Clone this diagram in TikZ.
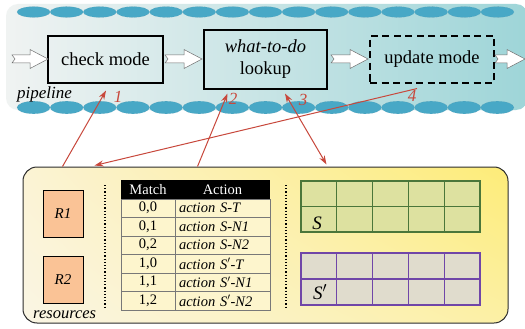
\documentclass[tikz,border=0pt]{standalone}
\usepackage{fontspec}
\setmainfont{Liberation Serif}
\usetikzlibrary{arrows.meta,calc,shadings}
\definecolor{pipeL}{RGB}{240,243,242}
\definecolor{pipeR}{RGB}{158,213,216}
\definecolor{ellC}{RGB}{72,168,198}
\definecolor{ellD}{RGB}{95,150,170}
\definecolor{redC}{RGB}{200,72,60}
\definecolor{resBox}{RGB}{250,195,150}
\definecolor{gridG}{RGB}{75,118,58}
\definecolor{gridGF}{RGB}{221,225,160}
\definecolor{gridP}{RGB}{112,70,168}
\definecolor{gridPF}{RGB}{224,220,205}
\definecolor{rowF}{RGB}{253,245,205}
\definecolor{cellD}{RGB}{120,120,120}
\definecolor{arrG}{RGB}{110,110,110}
\definecolor{resUL}{RGB}{251,243,212}
\definecolor{resUR}{RGB}{253,236,120}
\definecolor{resLL}{RGB}{250,245,228}
\definecolor{resLR}{RGB}{252,240,165}
\definecolor{resEdge}{RGB}{45,45,45}
\tikzset{
  procbox/.style={draw=black, line width=1.1pt, minimum height=47pt, inner sep=2pt,
    font=\fontsize{18.5}{22}\selectfont, align=center},
  hollowarr/.style={draw=arrG, fill=white, line width=0.5pt, line join=miter},
  redarr/.style={draw=redC, line width=1pt, -{Stealth[length=9pt,width=6pt]}},
  redarrb/.style={draw=redC, line width=1pt, {Stealth[length=9pt,width=6pt]}-{Stealth[length=9pt,width=6pt]}},
  rednum/.style={text=redC, font=\fontsize{17}{20}\selectfont\itshape, inner sep=0pt},
  resbx/.style={draw=black, line width=1pt, fill=resBox, minimum width=40pt,
    minimum height=47pt, inner sep=0pt, font=\fontsize{15}{18}\selectfont\itshape},
  hdr/.style={fill=black, text=white, minimum height=19pt, inner sep=0pt,
    font=\fontsize{14.5}{17}\selectfont},
  mcell/.style={draw=cellD, line width=0.8pt, fill=rowF, minimum width=54pt,
    minimum height=18.5pt, inner sep=0pt, font=\fontsize{14.5}{17}\selectfont},
  acell/.style={draw=cellD, line width=0.8pt, fill=rowF, minimum height=18.5pt,
    text width=87pt, align=left, inner xsep=4pt, inner ysep=0pt,
    font=\fontsize{14.5}{17}\selectfont\itshape},
  lbl/.style={inner sep=0pt, font=\fontsize{17}{20}\selectfont\itshape},
  dotsep/.style={draw=black, line width=1.2pt, dotted},
}
% hollow notched arrow: #1 = start x, #2 = total length
\newcommand\hollowArrow[2]{%
  \draw[hollowarr] (#1,55) -- ({#1+#2-18},55) -- ({#1+#2-18},49.5) -- ({#1+#2},59)
    -- ({#1+#2-18},68.5) -- ({#1+#2-18},63) -- (#1,63) -- ({#1+3},59) -- cycle;}
\begin{document}
\begin{tikzpicture}[x=1pt,y=-1pt]
\clip (0,0) rectangle (525,329);
\fill[white] (0,0) rectangle (525,329);
% pipeline background
\node[rounded corners=12pt, left color=pipeL, right color=pipeR, minimum width=522pt,
  minimum height=106pt, inner sep=0pt] (pipebg) at (267,57) {};
% ellipse chains
\foreach \i in {0,...,14} {
  \filldraw[fill=ellC, draw=ellD, line width=0.3pt, densely dotted]
    ({17+33.13*\i+16.57},12) ellipse (16.57pt and 5.4pt);
  \filldraw[fill=ellC, draw=ellD, line width=0.3pt, densely dotted]
    ({17+33.13*\i+16.57},107.5) ellipse (16.57pt and 6.3pt);
}
% pipeline boxes
\node[procbox, minimum width=115pt] (check) at (105.5,59.5) {check mode};
\node[procbox, minimum width=123pt, minimum height=59pt] (lookup) at (265.5,59.5)
  {\textit{what-to-do}\\lookup};
\node[procbox, minimum width=124pt, dash pattern=on 7pt off 4.5pt] (update) at (432,59.5) {update mode};
% hollow arrows
\hollowArrow{12}{36}
\hollowArrow{165}{37}
\hollowArrow{331}{37}
\hollowArrow{495}{30}
\node[lbl, anchor=base west] (pipelbl) at (17,99) {pipeline};
% resources panel
\node[draw=resEdge, line width=1pt, rounded corners=14pt,
  minimum width=485pt, minimum height=156pt, inner sep=0pt,
  upper left=resUL, upper right=resUR, lower left=resLL, lower right=resLR] (resbox) at (265.5,245) {};
\node[resbx] (r1) at (63,213.5) {R1};
\node[resbx] (r2) at (63,279.5) {R2};
\node[lbl, anchor=base west, font=\fontsize{16.5}{19}\selectfont\itshape] (reslbl) at (33,318) {resources};
\draw[dotsep] (105,185) -- (105,308);
\draw[dotsep] (286,185) -- (286,308);
% table
\node[hdr, minimum width=54pt] (hm) at (148,189.5) {Match};
\node[hdr, minimum width=95pt] (ha) at (222.5,189.5) {Action};
\foreach \i/\m/\a in {1/{0,0}/{S-T},2/{0,1}/{S-N1},3/{0,2}/{S-N2},
                      4/{1,0}/{S$'$-T},5/{1,1}/{S$'$-N1},6/{1,2}/{S$'$-N2}} {
  \node[mcell] (m\i) at (148,{199+18.5*(\i-0.5)}) {\m};
  \node[acell] (a\i) at (222.5,{199+18.5*(\i-0.5)}) {action \a};
}
% grids
\fill[gridGF] (301,181) rectangle (480,232);
\foreach \k in {1,...,4} \draw[gridG, line width=1.3pt] ({301+35.8*\k},181) -- ({301+35.8*\k},232);
\draw[gridG, line width=1.3pt] (301,206.5) -- (480,206.5);
\draw[gridG, line width=1.3pt] (301,181) rectangle (480,232);
\node[lbl, font=\fontsize{19}{22}\selectfont\itshape] (slbl) at (317,223) {S};
\fill[gridPF] (301,253) rectangle (480,305);
\foreach \k in {1,...,4} \draw[gridP, line width=1.3pt] ({301+35.8*\k},253) -- ({301+35.8*\k},305);
\draw[gridP, line width=1.3pt] (301,279) -- (480,279);
\draw[gridP, line width=1.3pt] (301,253) rectangle (480,305);
\node[lbl, font=\fontsize{19}{22}\selectfont\itshape] (splbl) at (320,292) {S$'$};
% red connectors
\coordinate (c1s) at ($(resbox.north west)+(40,0)$);
\coordinate (c1e) at ($(check.south)+(0.5,7)$);
\coordinate (c2s) at ($(resbox.north west)+(175,0)$);
\coordinate (c2e) at ($(lookup.south)+(-38,4)$);
\coordinate (c3s) at ($(lookup.south)+(19.5,4)$);
\coordinate (c3e) at ($(resbox.north west)+(304,-2)$);
\coordinate (c4s) at ($(update.south)+(-15,5)$);
\coordinate (c4e) at ($(resbox.north west)+(72,-1)$);
\draw[redarr] (c1s) -- (c1e);
\draw[redarr] (c2s) -- (c2e);
\draw[redarrb] (c3s) -- (c3e);
\draw[redarr] (c4s) -- (c4e);
\node[rednum] (n1) at (118,97) {1};
\node[rednum] (n2) at (233,99) {2};
\node[rednum] (n3) at (303,100) {3};
\node[rednum] (n4) at (412,96) {4};
\end{tikzpicture}
\end{document}
